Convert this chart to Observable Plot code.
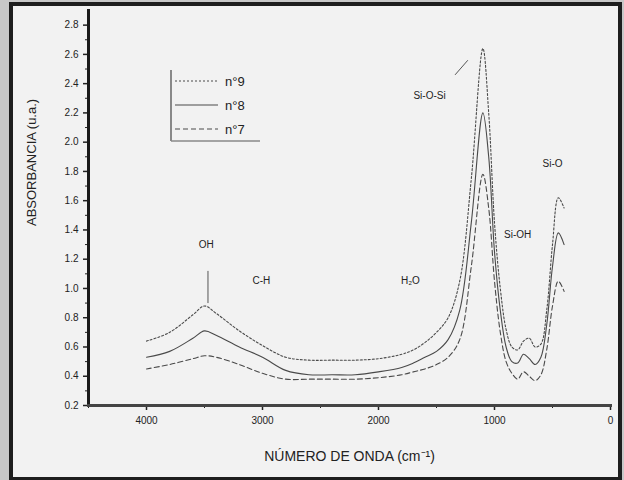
<!DOCTYPE html>
<html>
<head>
<meta charset="utf-8">
<script src="https://cdn.jsdelivr.net/npm/d3@7"></script>
<script src="https://cdn.jsdelivr.net/npm/@observablehq/plot@0.6"></script>
<style>
  body { margin: 0; background: #c8c8c8; font-family: "Liberation Sans", Arial, sans-serif; }
  #frame { position: absolute; left: 9px; top: 2px; width: 605px; height: 471px; border: 4px solid #1e1e1e; background: #f2f2f2; }
  #legend { position: absolute; left: 157px; top: 63px; width: 92px; height: 74px; font-size: 13px; color: #222; }
</style>
</head>
<body>
<div id="frame"><div id="legend"></div></div>
<script>
// Wavenumber samples (cm-1) and absorbance of the three spectra
const wavenumbers = [4000,3800,3600,3500,3400,3200,3000,2800,2600,2400,2200,2000,1800,1700,1600,1500,1400,1300,1200,1100,1050,1000,950,900,850,800,750,700,650,600,550,500,450,400];
const n9 = [0.64,0.70,0.82,0.88,0.83,0.71,0.61,0.53,0.51,0.51,0.51,0.52,0.55,0.58,0.63,0.70,0.80,1.05,1.75,2.64,2.20,1.45,1.00,0.72,0.60,0.58,0.64,0.66,0.60,0.62,0.85,1.30,1.62,1.55];
const n8 = [0.53,0.57,0.66,0.71,0.68,0.60,0.53,0.44,0.41,0.41,0.41,0.43,0.46,0.49,0.53,0.57,0.65,0.85,1.45,2.20,1.90,1.25,0.85,0.60,0.50,0.49,0.55,0.52,0.48,0.53,0.75,1.15,1.38,1.30];
const n7 = [0.45,0.48,0.52,0.54,0.53,0.48,0.42,0.38,0.38,0.38,0.38,0.39,0.41,0.43,0.45,0.48,0.53,0.65,1.15,1.78,1.55,1.05,0.70,0.50,0.42,0.38,0.43,0.40,0.37,0.41,0.58,0.88,1.05,0.98];
const seriesNames = ["n°9", "n°8", "n°7"];
const seriesDash = ["2,2", null, "5,3"];

// Axis ticks
const xTicks = [4000, 3000, 2000, 1000, 0];
const xMinor = [4500, 3500, 2500, 1500, 500];
const yTicks = [0.2,0.4,0.6,0.8,1.0,1.2,1.4,1.6,1.8,2.0,2.2,2.4,2.6,2.8];
const yMinor = [0.3,0.5,0.7,0.9,1.1,1.3,1.5,1.7,1.9,2.1,2.3,2.5,2.7];

// Band annotations (wavenumber, absorbance)
const bandLabels = ["OH", "C-H", "H₂O", "Si-O-Si", "Si-OH", "Si-O"];
const bandX = [3485, 3010, 1725, 1560, 800, 500];
const bandY = [1.30, 1.05, 1.05, 2.32, 1.37, 1.85];
const leaders = [
  {x1: 3470, y1: 1.12, x2: 3470, y2: 0.90},
  {x1: 1340, y1: 2.46, x2: 1230, y2: 2.56}
];

const table = [];
[n9, n8, n7].forEach((vals, s) => {
  wavenumbers.forEach((w, i) => table.push({w, a: vals[i], s: seriesNames[s]}));
});
const bands = bandLabels.map((t, i) => ({t, x: bandX[i], y: bandY[i]}));

const color = "#4a4a4a";
const plot = Plot.plot({
  width: 605,
  height: 471,
  marginLeft: 75,
  marginTop: 4,
  marginBottom: 72,
  marginRight: 8,
  style: {background: "transparent", fontFamily: "Liberation Sans, Arial, sans-serif", color: "#222"},
  x: {domain: [4500, 0], label: null},
  y: {domain: [0.2, 2.9], label: null},
  marks: [
    Plot.axisX({ticks: xTicks, tickSize: 5, tickPadding: 6, fontSize: 10, tickFormat: d => String(d), strokeWidth: 1.5}),
    Plot.axisX({ticks: xMinor, tickSize: 3, tickFormat: null, text: null}),
    Plot.axisY({ticks: yTicks, tickSize: 5, tickPadding: 5, fontSize: 10, tickFormat: d3.format(".1f"), strokeWidth: 1.5}),
    Plot.axisY({ticks: yMinor, tickSize: 3, text: null}),
    Plot.frame({anchor: "left", stroke: "#1a1a1a", strokeWidth: 3}),
    Plot.frame({anchor: "bottom", stroke: "#444", strokeWidth: 3}),
    ...seriesNames.map((name, s) => Plot.line(table.filter(d => d.s === name), {
      x: "w", y: "a", stroke: color, strokeWidth: 1.1, strokeDasharray: seriesDash[s], curve: "catmull-rom"
    })),
    Plot.link(leaders, {x1: "x1", y1: "y1", x2: "x2", y2: "y2", stroke: "#555", strokeWidth: 1}),
    Plot.text(bands, {x: "x", y: "y", text: "t", fontSize: 10, fill: "#222"}),
    Plot.text(["ABSORBANCIA (u.a.)"], {frameAnchor: "left", dx: -57, dy: 18, rotate: -90, fontSize: 13, fill: "#222"}),
    Plot.text(["NÚMERO DE ONDA (cm⁻¹)"], {frameAnchor: "bottom", dy: 55, fontSize: 14, fill: "#222"})
  ]
});
document.getElementById("frame").prepend(plot);

// Legend inside the plot area
const lg = document.getElementById("legend");
const ns = "http://www.w3.org/2000/svg";
const svg = document.createElementNS(ns, "svg");
svg.setAttribute("width", 92); svg.setAttribute("height", 74);
svg.style.position = "absolute"; svg.style.left = "0"; svg.style.top = "0";
const mk = (tag, attrs) => { const e = document.createElementNS(ns, tag); for (const k in attrs) e.setAttribute(k, attrs[k]); svg.appendChild(e); return e; };
mk("line", {x1: 1, y1: 1, x2: 1, y2: 72, stroke: "#666", "stroke-width": 1.5});
mk("line", {x1: 1, y1: 72, x2: 90, y2: 72, stroke: "#888", "stroke-width": 1.5});
seriesNames.forEach((name, s) => {
  const y = 12 + s * 24;
  const l = mk("line", {x1: 5, y1: y, x2: 48, y2: y, stroke: color, "stroke-width": 1.2});
  if (seriesDash[s]) l.setAttribute("stroke-dasharray", seriesDash[s]);
  const t = mk("text", {x: 55, y: y + 4.5, "font-size": 13, fill: "#222"});
  t.textContent = name;
});
lg.appendChild(svg);
</script>
</body>
</html>
